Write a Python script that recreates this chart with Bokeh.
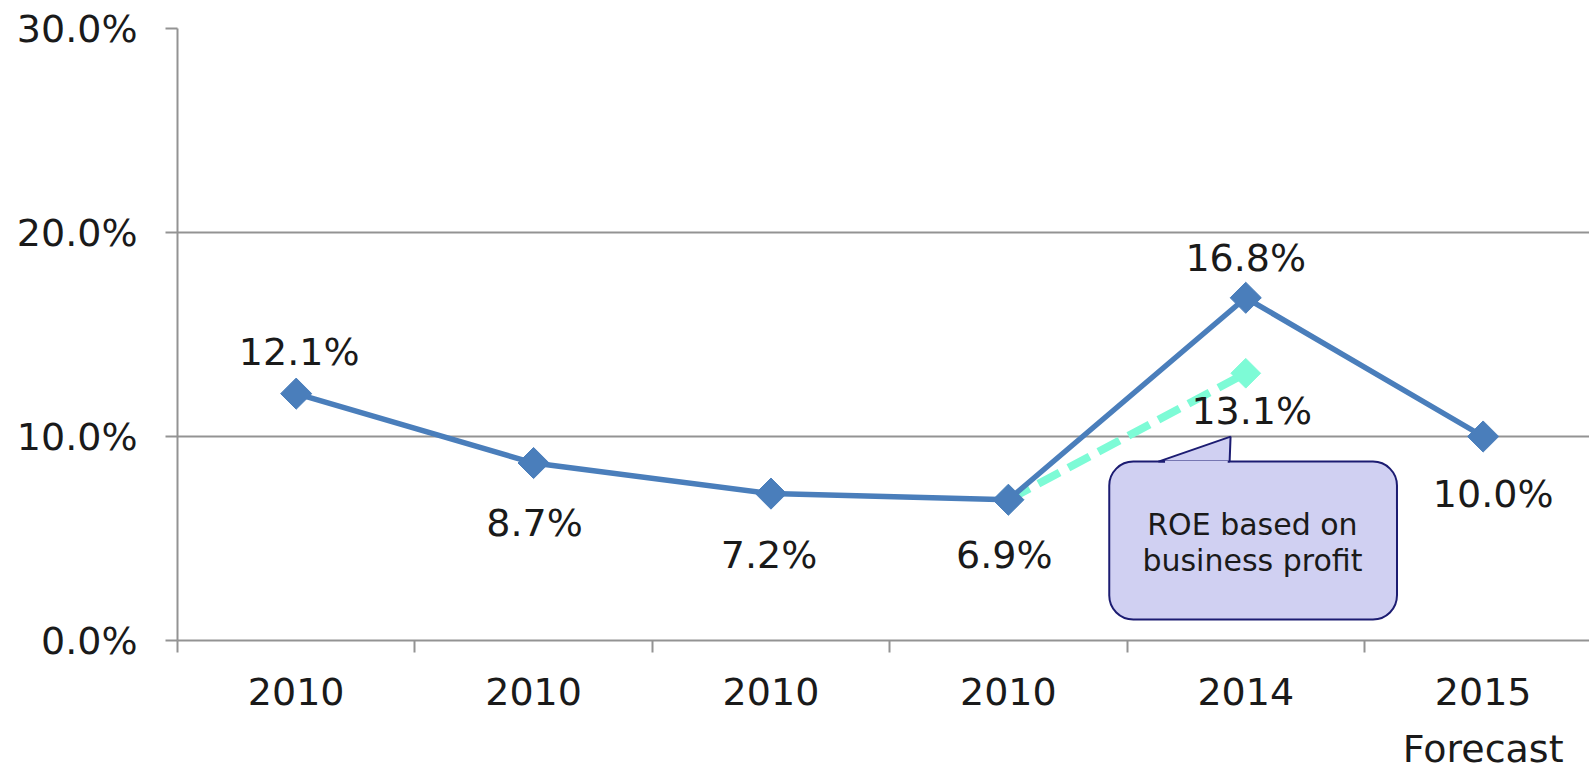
import numpy as np
from bokeh.plotting import figure
from bokeh.models import (ColumnDataSource, FixedTicker, PrintfTickFormatter, Range1d,
                          BoxAnnotation, PolyAnnotation, Label, LinearAxis)
from bokeh.core.properties import value
from bokeh.embed import file_html
from bokeh.resources import INLINE

# ---- data ----
years = ["2010", "2010", "2010", "2010", "2014", "2015"]
forecast_note = "Forecast"
forecast_idx = 5
roe = [12.1, 8.7, 7.2, 6.9, 16.8, 10.0]
business_idx = [3, 4]
roe_business = [6.9, 13.1]
y_ticks = [0, 10, 20, 30]
callout_lines = ["ROE based on", "business profit"]

# label offsets (pixels) for the value labels
roe_dx = [3, 1, -2, -4, 0, 10]
roe_dy = [-42, 60, 61, 55, -40, 57]
business_dx = [0, 6]
business_dy = [0, 38]

FONT = "DejaVu Sans"
FS = "38px"
GRAY = "#939393"
BLUE = "#4a7ebb"
AQUA = "#7dfbd6"
TEXT = "#1a1a1a"

n = len(years)
xc = np.arange(n) + 0.5

p = figure(width=1589, height=774, output_backend="svg", toolbar_location=None,
           x_range=Range1d(0, 5.948), y_range=Range1d(0, 30),
           min_border_left=177, min_border_right=0, min_border_top=28,
           min_border_bottom=134)
p.outline_line_color = None
p.background_fill_color = "white"
p.border_fill_color = "white"

# y axis
p.yaxis.ticker = FixedTicker(ticks=y_ticks)
p.yaxis.formatter = PrintfTickFormatter(format="%.1f%%")
p.yaxis.major_tick_out = 12
p.yaxis.major_tick_in = 0
p.yaxis.minor_tick_out = 0
p.yaxis.minor_tick_in = 0
p.yaxis.axis_line_color = GRAY
p.yaxis.axis_line_width = 2
p.yaxis.major_tick_line_color = GRAY
p.yaxis.major_tick_line_width = 2
p.yaxis.major_label_text_font = FONT
p.yaxis.major_label_text_font_size = FS
p.yaxis.major_label_text_color = TEXT
p.yaxis.major_label_standoff = 28

# x axis: labels at category centres, tick marks at category boundaries
xaxis = p.xaxis[0]
xaxis.ticker = FixedTicker(ticks=list(xc), minor_ticks=list(range(n + 1)))
xaxis.major_label_overrides = {float(x): y for x, y in zip(xc, years)}
xaxis.major_tick_out = 0
xaxis.major_tick_in = 0
xaxis.minor_tick_out = 12
xaxis.minor_tick_in = 0
xaxis.minor_tick_line_color = GRAY
xaxis.minor_tick_line_width = 2
xaxis.axis_line_color = GRAY
xaxis.axis_line_width = 2
xaxis.major_label_text_font = FONT
xaxis.major_label_text_font_size = FS
xaxis.major_label_text_color = TEXT
xaxis.major_label_standoff = 25

# second row of category text (forecast note)
note_axis = LinearAxis(ticker=FixedTicker(ticks=[float(xc[forecast_idx])]),
                       major_label_overrides={float(xc[forecast_idx]): forecast_note},
                       axis_line_color=None, major_tick_line_color=None,
                       minor_tick_line_color=None, major_tick_out=0, major_tick_in=0,
                       minor_tick_out=0, minor_tick_in=0,
                       major_label_text_font=FONT, major_label_text_font_size=FS,
                       major_label_text_color=TEXT, major_label_standoff=19)
p.add_layout(note_axis, "below")

p.xgrid.grid_line_color = None
p.ygrid.ticker = FixedTicker(ticks=y_ticks)
p.ygrid.grid_line_color = GRAY
p.ygrid.grid_line_width = 2

# business-profit ROE (dashed)
bsrc = ColumnDataSource(dict(
    x=[xc[i] for i in business_idx], y=roe_business,
    label=[f"{v:.1f}%" for v in roe_business],
    dx=business_dx, dy=business_dy))
p.line("x", "y", source=bsrc, line_color=AQUA, line_width=8, line_dash="24 10")
p.scatter("x", "y", source=bsrc, marker="square", angle=np.pi / 4, size=21,
          fill_color=AQUA, line_color=AQUA)

# ROE
src = ColumnDataSource(dict(x=xc, y=roe, label=[f"{v:.1f}%" for v in roe],
                            dx=roe_dx, dy=roe_dy))
p.line("x", "y", source=src, line_color=BLUE, line_width=5.5)
p.scatter("x", "y", source=src, marker="square", angle=np.pi / 4, size=22,
          fill_color=BLUE, line_color=BLUE)

p.text("x", "y", text="label", source=src, x_offset="dx", y_offset="dy",
       text_font=value(FONT), text_font_size=FS, text_color=TEXT,
       text_align="center", text_baseline="middle")
lbl = ColumnDataSource(dict(x=bsrc.data["x"][1:], y=roe_business[1:],
                            label=bsrc.data["label"][1:], dx=business_dx[1:],
                            dy=business_dy[1:]))
p.text("x", "y", text="label", source=lbl, x_offset="dx", y_offset="dy",
       text_font=value(FONT), text_font_size=FS, text_color=TEXT,
       text_align="center", text_baseline="middle")

# callout box with pointer
CALL_FILL = "#d0d0f2"
CALL_LINE = "#1c1c72"
box = BoxAnnotation(left=3.925, right=5.137, top=8.77, bottom=1.03,
                    fill_color=CALL_FILL, fill_alpha=1, line_color=CALL_LINE,
                    line_alpha=1, line_width=2, border_radius=24)
p.add_layout(box)
pointer = PolyAnnotation(xs=[4.132, 4.436, 4.432], ys=[8.77, 9.995, 8.77],
                         fill_color=CALL_FILL, fill_alpha=1, line_color=CALL_LINE,
                         line_alpha=1, line_width=2)
p.add_layout(pointer)
cover = BoxAnnotation(left=4.16, right=4.424, top=8.80, bottom=8.55,
                      fill_color=CALL_FILL, fill_alpha=1, line_color=None)
p.add_layout(cover)

for txt, yy in zip(callout_lines, [5.683, 3.92]):
    p.add_layout(Label(x=4.528, y=yy, text=txt, text_font=FONT,
                       text_font_size="30px", text_color=TEXT,
                       text_align="center", text_baseline="middle"))

open("out.html", "w").write(file_html(p, INLINE))
